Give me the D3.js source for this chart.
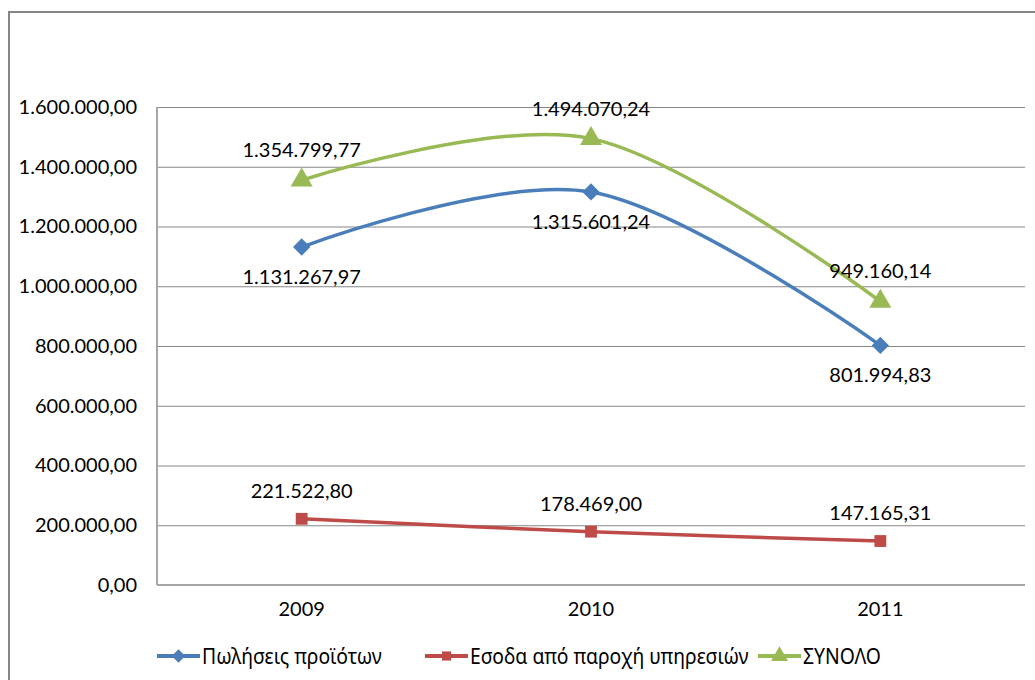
<!DOCTYPE html>
<html>
<head>
<meta charset="utf-8">
<script src="https://cdn.jsdelivr.net/npm/d3@7.9.0/dist/d3.min.js"></script>
<style>
  body { margin: 0; background: #fff; }
  svg { display: block; font-family: Lato, "Noto Sans", sans-serif; }
</style>
</head>
<body>
<div id="chart"></div>
<script>
const years = ['2009', '2010', '2011'];
const sales    = [1131267.97, 1315601.24, 801994.83];
const services = [221522.80, 178469.00, 147165.31];
const total    = [1354799.77, 1494070.24, 949160.14];
const seriesNames = ['Πωλήσεις προϊότων', 'Εσοδα από παροχή υπηρεσιών', 'ΣΥΝΟΛΟ'];
const yTicks = [0, 200000, 400000, 600000, 800000, 1000000, 1200000, 1400000, 1600000];

const width = 1035, height = 680;
const plot = { left: 157, right: 1025, top: 107, bottom: 585 };

// diamond = square turned 45°
const series = [
  { name: seriesNames[0], values: sales,    color: '#4A7EBB', marker: d3.symbolSquare,   size: 150, rot: 45, labelDy: 37 },
  { name: seriesNames[1], values: services, color: '#BE4B48', marker: d3.symbolSquare,   size: 140, rot: 0,  labelDy: -21 },
  { name: seriesNames[2], values: total,    color: '#98B954', marker: d3.symbolTriangle, size: 210, rot: 0,  labelDy: -23 }
];

// greek number format: 1.234.567,89
const fmt = d3.formatLocale({ decimal: ',', thousands: '.', grouping: [3], currency: ['', '€'] }).format(',.2f');

const svg = d3.select('#chart').append('svg')
  .attr('width', width).attr('height', height);

// outer chart border
svg.append('rect')
  .attr('x', 9).attr('y', 12)
  .attr('width', width + 20).attr('height', height + 20)
  .attr('fill', 'none').attr('stroke', '#868686').attr('stroke-width', 2);

const x = d3.scaleBand().domain(years).range([plot.left, plot.right]);
const y = d3.scaleLinear().domain([0, 1600000]).range([plot.bottom, plot.top]);

// gridlines
svg.append('g')
  .attr('transform', `translate(${plot.left},0)`)
  .call(d3.axisLeft(y).tickValues(yTicks.slice(1)).tickFormat('').tickSize(-(plot.right - plot.left)))
  .call(g => g.select('.domain').remove())
  .selectAll('line').attr('stroke', '#868686').attr('stroke-width', 1);

// y axis labels
svg.append('g')
  .attr('transform', `translate(${plot.left},0)`)
  .call(d3.axisLeft(y).tickValues(yTicks).tickFormat(fmt).tickSize(0).tickPadding(20))
  .call(g => g.select('.domain').remove())
  .selectAll('text')
  .attr('font-size', 20).attr('fill', '#000').attr('font-family', 'Lato, "Noto Sans", sans-serif');

// axis lines
svg.append('line')
  .attr('x1', plot.left).attr('x2', plot.left)
  .attr('y1', plot.top).attr('y2', plot.bottom)
  .attr('stroke', '#a6a6a6').attr('stroke-width', 2);
svg.append('line')
  .attr('x1', plot.left).attr('x2', plot.right)
  .attr('y1', plot.bottom).attr('y2', plot.bottom)
  .attr('stroke', '#a6a6a6').attr('stroke-width', 2);

// x axis labels
svg.append('g')
  .attr('transform', `translate(0,${plot.bottom})`)
  .call(d3.axisBottom(x).tickSize(0).tickPadding(17))
  .call(g => g.select('.domain').remove())
  .selectAll('text')
  .attr('font-size', 20).attr('fill', '#000').attr('font-family', 'Lato, "Noto Sans", sans-serif');

const cx = d => x(d) + x.bandwidth() / 2;
const line = d3.line()
  .x((v, i) => cx(years[i]))
  .y(v => y(v))
  .curve(d3.curveCardinal.tension(0));

for (const s of series) {
  const g = svg.append('g');
  g.append('path')
    .attr('d', line(s.values))
    .attr('fill', 'none')
    .attr('stroke', s.color)
    .attr('stroke-width', 3.5)
    .attr('stroke-linejoin', 'round');
  g.selectAll('path.m')
    .data(s.values)
    .join('path')
    .attr('class', 'm')
    .attr('transform', (v, i) => `translate(${cx(years[i])},${y(v)}) rotate(${s.rot})`)
    .attr('d', d3.symbol().type(s.marker).size(s.size))
    .attr('fill', s.color);
  g.selectAll('text')
    .data(s.values)
    .join('text')
    .attr('x', (v, i) => cx(years[i]))
    .attr('y', v => y(v) + s.labelDy)
    .attr('text-anchor', 'middle')
    .attr('font-size', 20)
    .attr('fill', '#000')
    .text(v => fmt(v));
}

// legend
const legendX = [157, 425, 758];
const legendY = 656;
series.forEach((s, i) => {
  const g = svg.append('g').attr('transform', `translate(${legendX[i]},${legendY})`);
  g.append('line')
    .attr('x1', 0).attr('x2', 43)
    .attr('stroke', s.color).attr('stroke-width', 4);
  g.append('path')
    .attr('transform', `translate(21.5,0) rotate(${s.rot})`)
    .attr('d', d3.symbol().type(s.marker).size(s.size * 0.6))
    .attr('fill', s.color);
  g.append('text')
    .attr('x', 45).attr('y', 0).attr('dy', '0.35em')
    .attr('font-size', 22)
    .attr('font-family', '"Noto Sans", sans-serif')
    .attr('fill', '#000')
    .attr('transform', 'scale(0.88,1)')
    .attr('transform-origin', '45 0')
    .text(s.name);
});
</script>
</body>
</html>
